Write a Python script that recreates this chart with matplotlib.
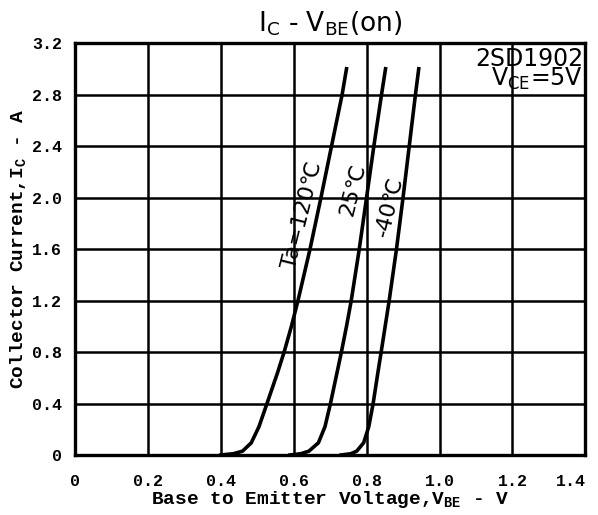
import matplotlib.pyplot as plt

# Ic - Vbe(on) curves (V, A)
ic = [0.0, 0.01, 0.03, 0.095, 0.22, 0.4, 0.64, 0.8, 1.0, 1.2, 1.6, 2.0, 2.4, 2.8, 3.0]
vbe_120 = [0.40, 0.435, 0.46, 0.484, 0.505, 0.527, 0.556, 0.574, 0.594, 0.612,
           0.645, 0.675, 0.704, 0.733, 0.745]
vbe_25 = [0.59, 0.62, 0.642, 0.668, 0.686, 0.701, 0.719, 0.731, 0.745, 0.758,
          0.780, 0.800, 0.820, 0.841, 0.852]
vbe_m40 = [0.73, 0.757, 0.773, 0.792, 0.806, 0.818, 0.831, 0.840, 0.851, 0.862,
           0.882, 0.900, 0.917, 0.934, 0.943]

curve_labels = ["Ta=120\u2103", "25\u2103", "-40\u2103"]
label_pos = [(0.623, 1.86), (0.763, 2.06), (0.864, 1.93)]

xticks = [0, 0.2, 0.4, 0.6, 0.8, 1.0, 1.2, 1.4]
xticklabels = ["0", "0.2", "0.4", "0.6", "0.8", "1.0", "1.2", "1.4"]
yticks = [0, 0.4, 0.8, 1.2, 1.6, 2.0, 2.4, 2.8, 3.2]
yticklabels = ["0", "0.4", "0.8", "1.2", "1.6", "2.0", "2.4", "2.8", "3.2"]

mono = "Liberation Mono"
cond = "DejaVu Sans Condensed"

fig = plt.figure(figsize=(5.98, 5.15), dpi=100)
ax = fig.add_axes([0.125, 0.1165, 0.854, 0.8])

for v in [vbe_120, vbe_25, vbe_m40]:
    ax.plot(v, ic, color="black", lw=2.6, solid_joinstyle="round")

for (x, y), txt in zip(label_pos, curve_labels):
    ax.text(x, y, txt, rotation=76, ha="center", va="center",
            fontsize=16, family=cond)

ax.set_xlim(0, 1.4)
ax.set_ylim(0, 3.2)
ax.set_xticks(xticks)
ax.set_xticklabels(xticklabels, family=mono, fontweight="bold", fontsize=12)
ax.get_xticklabels()[-1].set_horizontalalignment("right")
ax.get_xticklabels()[-1].set_x(1.4)
ax.set_yticks(yticks)
ax.set_yticklabels(yticklabels, family=mono, fontweight="bold", fontsize=12)
ax.tick_params(axis="x", length=0, pad=14)
ax.tick_params(axis="y", length=0, pad=9)
ax.grid(True, color="black", lw=1.8)
for s in ax.spines.values():
    s.set_linewidth(2.4)

ax.set_xlabel("Base to Emitter Voltage,V$_{\\mathregular{BE}}$ - V",
              family=mono, fontweight="bold", fontsize=14, labelpad=0)
ax.set_ylabel("Collector Current,I$_{\\mathregular{C}}$ - A",
              family=mono, fontweight="bold", fontsize=14, labelpad=2)
ax.set_title("I$_{\\mathregular{C}}$ - V$_{\\mathregular{BE}}$(on)",
             family=cond, fontsize=19, pad=8)

ax.text(0.995, 0.99, "2SD1902\nV$_{\\mathregular{CE}}$=5V", transform=ax.transAxes,
        ha="right", va="top", family=cond, fontsize=17, linespacing=0.75)

fig.savefig("out.png", dpi=100)
